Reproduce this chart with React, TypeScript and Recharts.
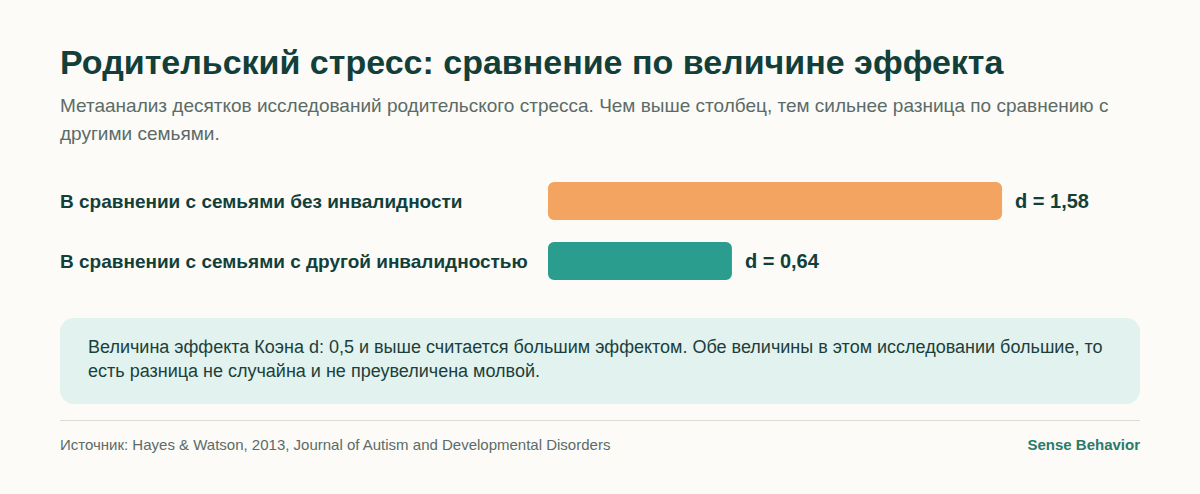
import React from "react";
import { BarChart, Bar, XAxis, YAxis, Cell, LabelList } from "recharts";

const categories = [
  "В сравнении с семьями без инвалидности",
  "В сравнении с семьями с другой инвалидностью",
];
const effectSizes = [1.58, 0.64];
const barColors = ["#f3a461", "#2a9d8f"];

const data = categories.map((name, i) => ({ name, d: effectSizes[i], color: barColors[i] }));

const FONT = "'Liberation Sans', Arial, sans-serif";
const DARK = "#123f3a";

const CategoryTick = (props: any) => {
  const { y, payload } = props;
  return (
    <text x={0} y={y} dy={6.5} textAnchor="start" fill={DARK} fontSize={19} fontWeight={700} fontFamily={FONT}>
      {payload.value}
    </text>
  );
};

export default function App() {
  return (
    <div
      style={{
        position: "fixed",
        left: 0,
        top: 0,
        width: 1200,
        height: 494,
        background: "#fcfbf7",
        fontFamily: FONT,
        overflow: "hidden",
      }}
    >
      <div style={{ position: "absolute", left: 60, top: 43, fontSize: 34, fontWeight: 700, color: DARK, whiteSpace: "nowrap" }}>
        Родительский стресс: сравнение по величине эффекта
      </div>
      <div style={{ position: "absolute", left: 60, top: 92, width: 1090, fontSize: 19, lineHeight: "28px", color: "#5b6b68" }}>
        Метаанализ десятков исследований родительского стресса. Чем выше столбец, тем сильнее разница по сравнению с другими семьями.
      </div>
      <div style={{ position: "absolute", left: 60, top: 171 }}>
        <BarChart width={1080} height={120} data={data} layout="vertical" margin={{ top: 0, right: 0, bottom: 0, left: 0 }} barSize={38}>
          <XAxis type="number" domain={[0, 2.06]} hide />
          <YAxis type="category" dataKey="name" width={488} axisLine={false} tickLine={false} tick={<CategoryTick />} />
          <Bar dataKey="d" radius={6} isAnimationActive={false}>
            {data.map((e, i) => (
              <Cell key={i} fill={e.color} />
            ))}
            <LabelList
              dataKey="d"
              position="right"
              offset={13}
              formatter={(v: any) => "d = " + Number(v).toFixed(2).replace(".", ",")}
              style={{ fill: DARK, fontSize: 20, fontWeight: 700, fontFamily: FONT }}
            />
          </Bar>
        </BarChart>
      </div>
      <div
        style={{
          position: "absolute",
          left: 60,
          top: 318,
          width: 1080,
          height: 86,
          boxSizing: "border-box",
          padding: "17px 28px",
          background: "#e2f2ef",
          borderRadius: 14,
          fontSize: 18,
          lineHeight: "24px",
          color: "#1b3f3b",
        }}
      >
        Величина эффекта Коэна d: 0,5 и выше считается большим эффектом. Обе величины в этом исследовании большие, то есть разница не случайна и не преувеличена молвой.
      </div>
      <div style={{ position: "absolute", left: 60, top: 420, width: 1080, height: 1, background: "#e0dbd3" }} />
      <div style={{ position: "absolute", left: 60, top: 436, fontSize: 15, color: "#5b6b68" }}>
        Источник: Hayes &amp; Watson, 2013, Journal of Autism and Developmental Disorders
      </div>
      <div style={{ position: "absolute", right: 60, top: 436, fontSize: 15, fontWeight: 700, color: "#2a7a6c" }}>
        Sense Behavior
      </div>
    </div>
  );
}
